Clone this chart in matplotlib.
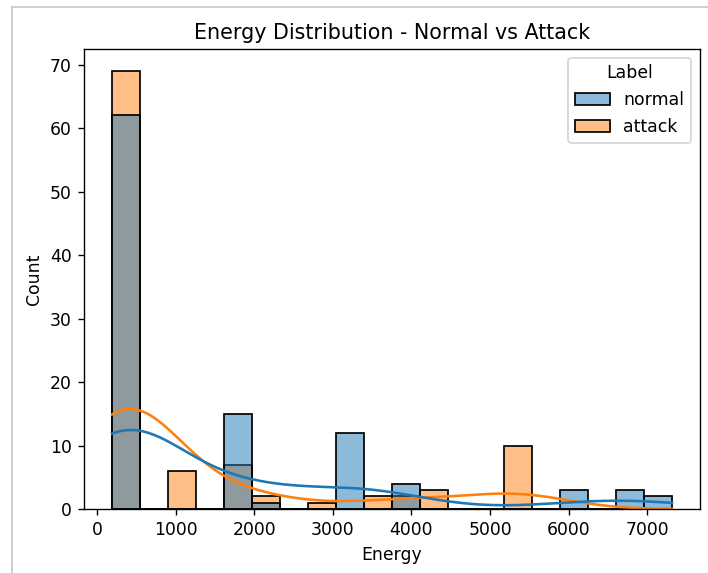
import numpy as np
import pandas as pd
import seaborn as sns
import matplotlib.pyplot as plt
from matplotlib.lines import Line2D

# Histogram: 20 bins spanning the energy range
bin_start = 190
bin_end = 7316
n_bins = 20

normal_counts = [62, 0, 0, 0, 15, 1, 0, 0, 12, 0, 4, 0, 0, 0, 0, 0, 3, 0, 3, 2]
attack_counts = [69, 0, 6, 0, 7, 2, 0, 1, 0, 2, 2, 3, 0, 0, 10, 0, 0, 0, 0, 0]

edges = np.linspace(bin_start, bin_end, n_bins + 1)
centers = (edges[:-1] + edges[1:]) / 2

# Rebuild observations (one per count, placed at the bin centre)
energy = np.concatenate([np.repeat(centers, normal_counts), np.repeat(centers, attack_counts)])
label = ["normal"] * sum(normal_counts) + ["attack"] * sum(attack_counts)
df = pd.DataFrame({"Energy": energy, "Label": label})

# reference looks like a default figure rendered at ~124 dpi
dpi = 124
fig = plt.figure(figsize=(708 / dpi, 573 / dpi), dpi=dpi)
ax = fig.add_axes([84 / 708, 1 - 509 / 573, 616 / 708, 460 / 573])

sns.histplot(data=df, x="Energy", hue="Label", hue_order=["normal", "attack"],
             bins=edges, kde=True, ax=ax,
             kde_kws={"cut": 1, "clip": (bin_start, bin_end)})

ax.set_title("Energy Distribution - Normal vs Attack")
ax.set_xlabel("Energy")
ax.set_ylabel("Count")

leg = ax.get_legend()
leg.set_loc("upper right")

# screenshot frame
fig.add_artist(Line2D([12 / 708, 12 / 708], [0, 1 - 7 / 573], color="#c8c8c8", lw=1.0))
fig.add_artist(Line2D([12 / 708, 1], [1 - 7 / 573, 1 - 7 / 573], color="#c8c8c8", lw=1.0))

fig.savefig("out.png", dpi=dpi)
